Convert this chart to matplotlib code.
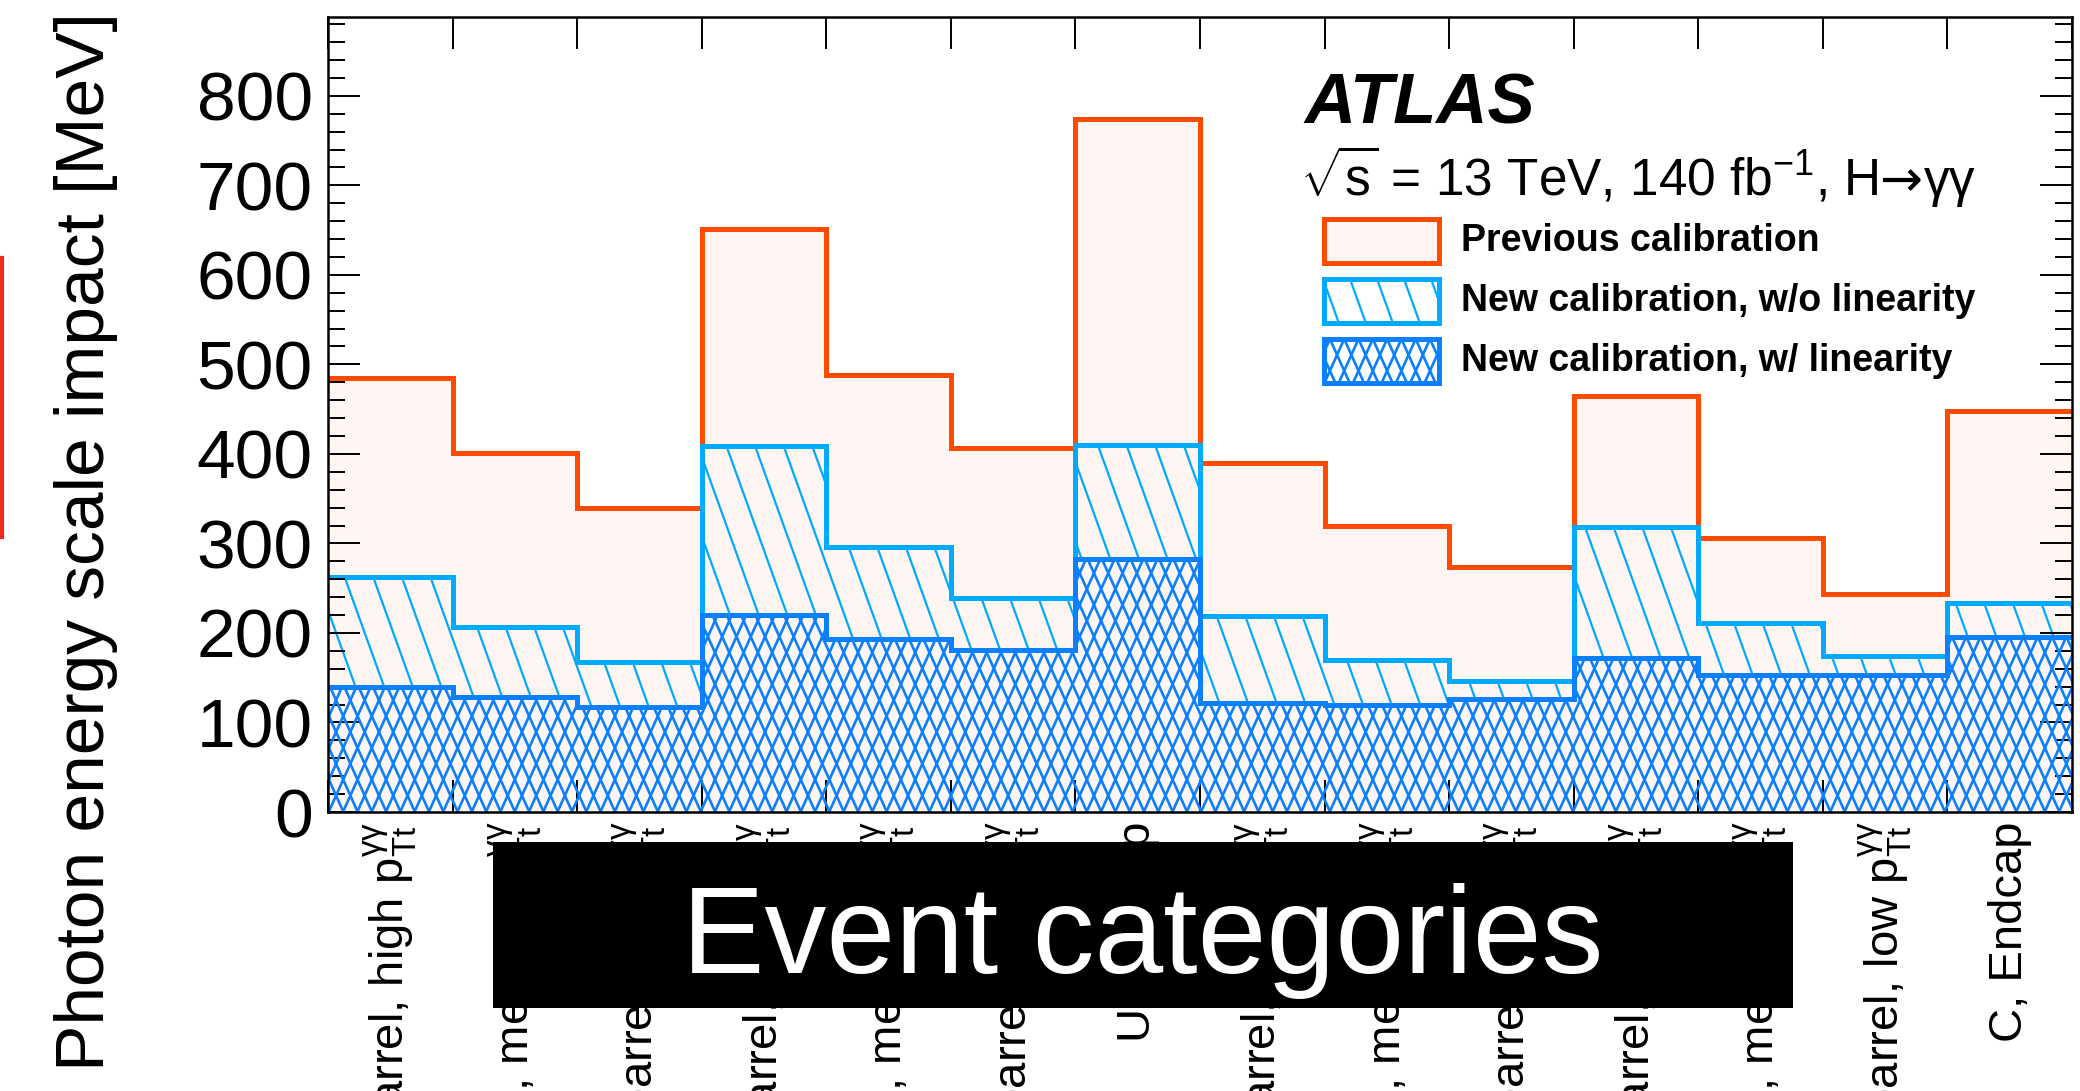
import numpy as np
import matplotlib
matplotlib.use("Agg")
import matplotlib.pyplot as plt
from matplotlib.collections import LineCollection
from matplotlib.patches import Rectangle
from matplotlib.lines import Line2D
from matplotlib.transforms import IdentityTransform
from matplotlib.ticker import MultipleLocator

plt.rcParams['font.family'] = ['Liberation Sans', 'DejaVu Sans']
plt.rcParams['mathtext.fontset'] = 'custom'
plt.rcParams['mathtext.rm'] = 'Liberation Sans'
plt.rcParams['mathtext.it'] = 'Liberation Sans:italic'
plt.rcParams['mathtext.bf'] = 'Liberation Sans:bold'

# data (MeV), one value per event category
ptt = r"$\mathrm{p}_{\mathrm{Tt}}^{\mathrm{\gamma\gamma}}$"
categories = [
    "U, Central barrel, high " + ptt,
    "U, Central barrel, medium " + ptt,
    "U, Central barrel, low " + ptt,
    "U, Outer barrel, high " + ptt,
    "U, Outer barrel, medium " + ptt,
    "U, Outer barrel, low " + ptt,
    "U, Endcap",
    "C, Central barrel, high " + ptt,
    "C, Central barrel, medium " + ptt,
    "C, Central barrel, low " + ptt,
    "C, Outer barrel, high " + ptt,
    "C, Outer barrel, medium " + ptt,
    "C, Outer barrel, low " + ptt,
    "C, Endcap",
]
prev_calib = [485, 401, 340, 651, 488, 407, 774, 390, 320, 274, 465, 306, 244, 448]
new_no_lin = [263, 207, 168, 409, 296, 239, 410, 219, 170, 146, 318, 211, 174, 233]
new_lin = [140, 128, 117, 220, 193, 181, 283, 122, 119, 126, 172, 153, 153, 195]
legend_labels = ["Previous calibration",
                 "New calibration, w/o linearity",
                 "New calibration, w/ linearity"]

ORANGE = '#ff4b00'
PALE = '#fff5f2'
LBLUE = '#00aaff'
DBLUE = '#0a80ff'

W, H = 2080, 1091
fig = plt.figure(figsize=(W / 100, H / 100), dpi=100)


def fx(x):
    return x / W


def fy(y):
    return 1 - y / H


def add_hatch(parent, patch, box, spacing, slopes, color, lw, zorder):
    # steep hatch lines in pixel space, clipped to the patch
    x0, y0, x1, y1 = box
    h = y1 - y0
    segs = []
    for s in slopes:
        k0 = int(np.floor((x0 - abs(s) * h) / spacing)) - 1
        k1 = int(np.ceil((x1 + abs(s) * h) / spacing)) + 1
        for k in range(k0, k1 + 1):
            xa = k * spacing
            segs.append([(xa, y1), (xa + s * h, y0)])
    lc = LineCollection(segs, colors=color, linewidths=lw,
                        transform=IdentityTransform(), zorder=zorder)
    lc.set_clip_path(patch)
    if parent is fig:
        fig.add_artist(lc)
    else:
        parent.add_collection(lc, autolim=False)
    return lc


ax = fig.add_axes([fx(328), fy(812), (2072 - 328) / W, (812 - 17) / H])
edges = np.arange(len(categories) + 1)
centers = edges[:-1] + 0.5
ax.set_xlim(edges[0], edges[-1])
ax.set_ylim(0, 888)

box = ax.bbox.extents
LW = 3.6

# previous calibration
ax.stairs(prev_calib, edges, baseline=0, fill=True, facecolor=PALE,
          edgecolor='none', zorder=1.0)
ax.stairs(prev_calib, edges, baseline=None, color=ORANGE, lw=LW, zorder=1.1)

# new calibration without linearity
p_nl = ax.stairs(new_no_lin, edges, baseline=0, fill=True, facecolor=PALE,
                 edgecolor='none', zorder=1.2)
add_hatch(ax, p_nl, box, 28.6, [0.36], LBLUE, 1.6, 1.3)
ax.stairs(new_no_lin, edges, baseline=None, color=LBLUE, lw=LW, zorder=1.4)

# new calibration with linearity
p_l = ax.stairs(new_lin, edges, baseline=0, fill=True, facecolor=PALE,
                edgecolor='none', zorder=1.5)
add_hatch(ax, p_l, box, 14.3, [0.45, -0.45], DBLUE, 1.9, 1.6)
ax.stairs(new_lin, edges, baseline=None, color=DBLUE, lw=LW, zorder=1.7)

# axes styling
for sp in ax.spines.values():
    sp.set_linewidth(1.8)
    sp.set_zorder(3)
ax.set_xticks(edges)
ax.set_xticks(centers, minor=True)
ax.set_xticklabels(categories, minor=True, rotation=90, ha='center', va='top')
ax.tick_params(axis='x', which='major', direction='in', length=23, width=1.4,
               top=True, bottom=True, labelbottom=False)
ax.tick_params(axis='x', which='minor', length=0, pad=7, labelsize=34)
ax.set_yticks(np.arange(0, 801, 100))
ax.yaxis.set_minor_locator(MultipleLocator(20))
ax.tick_params(axis='y', which='both', direction='in', left=True, right=True,
               width=1.4, labelsize=50, pad=11)
ax.tick_params(axis='y', which='major', length=23)
ax.tick_params(axis='y', which='minor', length=12)

fig.text(fx(86), fy(12), "Photon energy scale impact [MeV]", rotation=90,
         ha='center', va='top', fontsize=50)

# labels
fig.text(fx(1304), fy(123), "ATLAS", fontsize=51, fontweight='bold',
         fontstyle='italic', ha='left', va='baseline')

# energy line: pieces placed one after another, arrow from DejaVu Sans
renderer = fig.canvas.get_renderer()
xpos = 1300
pieces = [(r"$\sqrt{\mathrm{s}}$ = 13 TeV, 140 fb$^{\mathrm{-1}}$, H", 'Liberation Sans'),
          ("→", 'DejaVu Sans'),
          ("γγ", 'Liberation Sans')]
for txt, fam in pieces:
    t = fig.text(xpos / W, fy(196), txt, fontsize=37, family=fam,
                 ha='left', va='baseline')
    xpos = t.get_window_extent(renderer).x1 + 1

# legend
rows = [(219, 263), (279, 323), (339, 383)]
styles = [(ORANGE, PALE, None), (LBLUE, 'white', 'single'),
          (DBLUE, 'white', 'cross')]
for (yt, yb), (ec, fc, hs), lab in zip(rows, styles, legend_labels):
    r = Rectangle((fx(1324), fy(yb)), 115 / W, (yb - yt) / H,
                  transform=fig.transFigure, facecolor=fc, edgecolor='none',
                  zorder=4)
    fig.add_artist(r)
    lbox = (1324, H - yb, 1439, H - yt)
    if hs == 'single':
        add_hatch(fig, r, lbox, 27, [0.36], LBLUE, 1.6, 4.1)
    elif hs == 'cross':
        add_hatch(fig, r, lbox, 14.3, [0.45, -0.45], DBLUE, 1.9, 4.1)
    fig.add_artist(Rectangle((fx(1324), fy(yb)), 115 / W, (yb - yt) / H,
                             transform=fig.transFigure, facecolor='none',
                             edgecolor=ec, lw=LW, zorder=4.2))
    fig.text(fx(1461), fy((yt + yb) / 2), lab, fontsize=27, fontweight='bold',
             ha='left', va='center')

# overlay box
fig.add_artist(Rectangle((fx(493), fy(1008)), 1300 / W, 166 / H,
                         transform=fig.transFigure, facecolor='black',
                         edgecolor='none', zorder=10))
fig.text(fx(1143), fy(973), "Event categories", color='white', fontsize=89,
         ha='center', va='baseline', zorder=11)

# red mark at left edge
fig.add_artist(Line2D([fx(2), fx(2)], [fy(258), fy(537)], color='#ee2a1f',
                      lw=3, transform=fig.transFigure, zorder=10))

fig.savefig("out.png", dpi=100)
